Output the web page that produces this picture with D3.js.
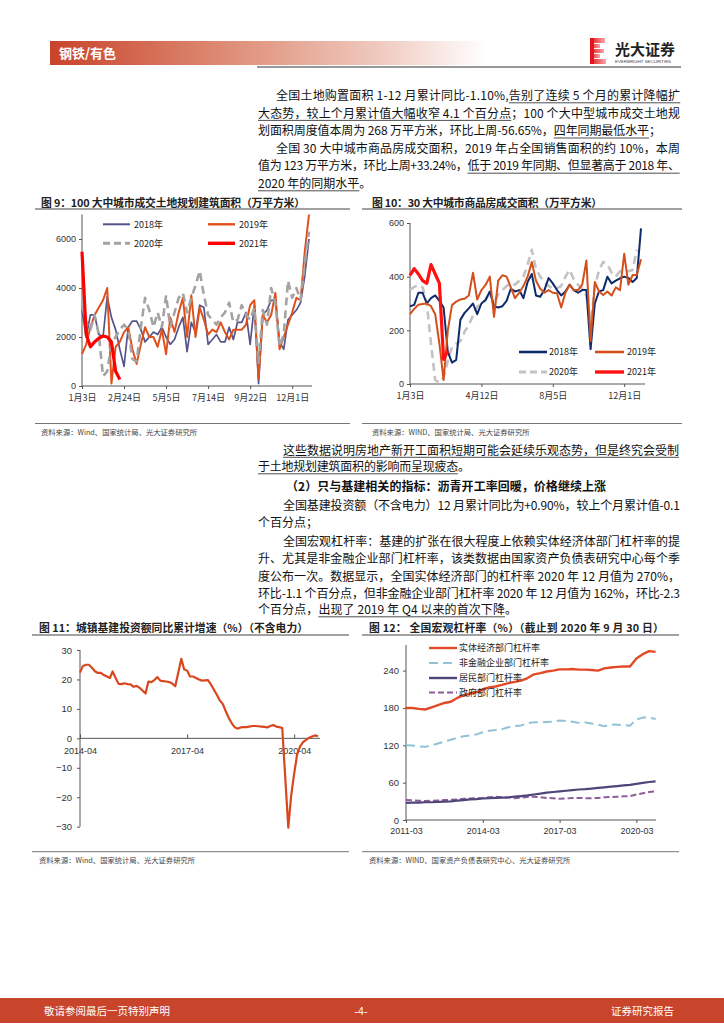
<!DOCTYPE html>
<html><head><meta charset="utf-8">
<script src="https://cdn.jsdelivr.net/npm/d3@7"></script>
<style>body{margin:0;background:#fff}svg{display:block}</style>
</head><body>
<script>
// ---------------- DATA ----------------
// Fig 9: 100 cities land planning area (weekly, 万平方米)
const fig9TickIdx = [0,10,20,30,40,50];
const fig9TickLabels = ["1月3日","2月24日","5月5日","7月14日","9月22日","12月1日"];
const fig9Names = ["2018年","2019年","2020年","2021年"];
const fig9_2018 = [3100,2000,2900,2900,2100,2000,3650,2800,2300,1500,800,2400,2650,2650,2300,1800,2000,2200,2100,2400,2000,1700,1900,2400,2800,1400,2600,2200,3300,3200,1700,1900,2100,1800,1800,2400,1900,2600,2600,3000,1700,3300,100,2900,3100,3500,3500,1800,1500,2700,2900,3100,3400,4500,6000];
const fig9_2019 = [1300,1700,2400,2900,3200,3500,4000,100,1600,1800,2200,2400,1500,900,1700,2400,2000,2000,1600,2300,1300,2800,2200,3000,3600,2000,3700,2000,3200,2700,2100,2300,2200,2600,2200,1900,2300,2300,2300,2500,3300,3500,300,2900,2600,2900,3800,1500,2000,2500,3000,3600,3500,5500,7000];
const fig9_2020 = [3300,2600,2300,2900,2100,400,600,1700,2000,2300,2500,2300,1100,1000,2400,3600,3100,2400,3000,2400,3700,2400,3000,3600,3800,3000,3600,4100,4700,3700,2900,2700,2500,2800,3000,3400,2600,2700,3300,2900,2700,3200,900,3100,2500,4000,3400,1600,2100,4300,3600,4000,3500,5000,6300];
const fig9_2021 = [5480,2100,1600,1800,1950,2040,2000,1800,600,268];
const fig9YTicks = [0,2000,4000,6000];

// Fig 10: 30 cities commodity housing sales (weekly, 万平方米)
const fig10TickIdx = [0,17,34,51];
const fig10TickLabels = ["1月3日","4月12日","8月5日","12月1日"];
const fig10Names = ["2018年","2019年","2020年","2021年"];
const fig10_2018 = [290,295,340,340,300,320,330,310,285,120,80,90,240,265,282,300,260,300,313,345,290,285,290,310,355,345,350,320,380,410,330,325,350,395,375,350,330,345,370,350,340,350,350,130,300,345,350,400,375,385,394,400,395,380,395,580];
const fig10_2019 = [260,280,295,298,300,290,260,150,15,200,294,307,315,318,330,415,315,350,369,400,250,385,405,400,360,320,340,365,400,455,385,355,340,350,340,338,285,340,370,350,350,370,460,160,380,345,332,345,330,360,350,485,370,406,406,465];
const fig10_2020 = [350,362,368,360,300,150,15,5,25,85,139,150,160,195,220,255,288,300,315,340,300,335,350,365,375,370,385,400,445,500,430,400,380,365,357,357,365,400,425,390,370,355,330,220,360,425,455,445,415,400,420,425,420,425,500];
const fig10_2021 = [405,430,410,385,375,445,410,375,92,123];
const fig10YTicks = [0,200,400,600];

// Fig 11: infrastructure investment cumulative YoY (%), monthly 2014-04 .. 2020-12 (null = no January release)
const fig11Start = "2014-04", fig11End = "2020-12";
const fig11Values = [22.3,24.6,25,25,24,22.8,22.2,22.2,21.5,null,20.5,22.7,20.5,18.5,18.4,18.7,18.4,18.3,17.5,17.8,17.2,null,15.2,19.3,19.1,19.8,20.8,19.6,19.4,19.3,19.1,18.6,17.7,null,27,23.5,23,21,21,20.5,20,19.6,19.7,19.8,18.3,null,14.7,12.9,11.7,9.3,7,5.2,3.8,3.3,3.7,3.8,3.8,null,4.2,4.2,4.1,4,3.9,3.7,4.2,4.5,4,3.8,3.5,null,-30.3,-19.5,-12,-5.5,-2.7,-1.3,-0.5,0.2,0.6,1.0,0.7];
const fig11TickLabels = ["2014-04","2017-04","2020-04"];
const fig11YTicks = [-30,-20,-10,0,10,20,30];

// Fig 12: macro leverage (%), quarterly 2011-03 .. 2020-12
const fig12Names = ["实体经济部门杠杆率","非金融企业部门杠杆率","居民部门杠杆率","政府部门杠杆率"];
const fig12Real = [180,180,178.5,177.5,181,184.5,188,190,196,200,203,205,210,213,214.5,217,220,222,224,228,234,236,238.5,240,242,242,242.5,241.5,241.5,241,240,243.5,245,246,246.5,246.5,259.3,266.4,271.2,270.1];
const fig12Corp = [120,119.5,118,117.5,120,123,126,129,132,134.5,136,137.5,141,143.5,144.5,146,149,151,152,155.5,157,157,157.5,158,160,159,158,156,156.5,155,153,150.5,153.5,153,152.5,151.5,161.5,164.5,164.6,162.3];
const fig12House = [27.5,28,28,28.5,28.5,29,29.5,30,31,32,33,33.5,34.5,35,35.5,36,36.5,37.5,38.5,39.5,41,42.5,44,45,46,47,48,49,49.5,50.5,51.5,52.5,53.5,54.5,55.5,56.5,58,59.5,61,62];
const fig12Gov = [32,31.5,31,30.5,31,31.5,32,32.5,33,34,34.5,35,35.5,36.5,37.5,36.5,36,35,36,37,37.5,36.5,35.5,35,34,34.5,35.5,35.5,35,35,35.5,36.5,37,37.5,38,38.5,41,43,45,46];
const fig12TickIdx = [0,12,24,36];
const fig12TickLabels = ["2011-03","2014-03","2017-03","2020-03"];
const fig12YTicks = [0,60,120,180,240];

// ---------------- DRAW ----------------
const CJK = "'Noto Sans CJK SC','Noto Sans',sans-serif";
const NUM = "'Liberation Sans','Noto Sans CJK SC',sans-serif";
const svg = d3.select("body").append("svg").attr("width",724).attr("height",1024);
const defs = svg.append("defs");

// header
const hg = defs.append("linearGradient").attr("id","hdr").attr("x1","0").attr("x2","1");
hg.append("stop").attr("offset","0%").attr("stop-color","#C8432A");
hg.append("stop").attr("offset","40%").attr("stop-color","#DE8C75");
hg.append("stop").attr("offset","75%").attr("stop-color","#EFC9BE");
hg.append("stop").attr("offset","100%").attr("stop-color","#FFFFFF");
svg.append("rect").attr("x",50).attr("y",41).attr("width",436).attr("height",24).attr("fill","url(#hdr)");
svg.append("text").attr("x",59).attr("y",58).text("钢铁/有色").attr("fill","#fff")
  .style("font-family",CJK).style("font-size","13px").style("font-weight","700");
svg.append("line").attr("x1",257).attr("x2",681).attr("y1",67).attr("y2",67).attr("stroke","#333").attr("stroke-width",1.2);
// logo
const lg = defs.append("linearGradient").attr("id","logo").attr("x1","0").attr("x2","1");
lg.append("stop").attr("offset","0%").attr("stop-color","#E3161E");
lg.append("stop").attr("offset","100%").attr("stop-color","#F7A5A5");
const logoBars = [[590,38,15,5],[590,44,10,4],[590,49,14,4],[590,54,10,4],[590,59,16,5]];
logoBars.forEach(b=>svg.append("rect").attr("x",b[0]).attr("y",b[1]).attr("width",b[2]).attr("height",b[3]).attr("fill","url(#logo)"));
svg.append("rect").attr("x",590).attr("y",38).attr("width",4).attr("height",26).attr("fill","#E3161E");
svg.append("text").attr("x",615).attr("y",55).text("光大证券").attr("fill","#222")
  .style("font-family",CJK).style("font-size","15px").style("font-weight","700");
svg.append("text").attr("x",615).attr("y",62.5).text("EVERBRIGHT SECURITIES").attr("fill","#444")
  .style("font-family",NUM).style("font-size","4.4px");

// footer
svg.append("rect").attr("x",0).attr("y",998).attr("width",724).attr("height",25).attr("fill","#C8442A");
svg.append("text").attr("x",44).attr("y",1014.5).text("敬请参阅最后一页特别声明").attr("fill","#fff").style("font-family",CJK).style("font-size","10.5px");
svg.append("text").attr("x",361).attr("y",1014.5).attr("text-anchor","middle").text("-4-").attr("fill","#fff").style("font-family",NUM).style("font-size","10.5px");
svg.append("text").attr("x",674).attr("y",1014.5).attr("text-anchor","end").text("证券研究报告").attr("fill","#fff").style("font-family",CJK).style("font-size","10.5px");

// justified text helper
function fitLine(x0, x1, y, segs, opt={}) {
  const t = svg.append("text").attr("x",x0).attr("y",y)
    .attr("fill", opt.fill||"#111")
    .style("font-family", opt.family||CJK).style("font-size",(opt.size||12)+"px")
    .style("font-weight", opt.weight||"400");
  let full = ""; const ranges = [];
  segs.forEach(s => { const str = s[0]; if (s[1]) ranges.push([full.length, full.length+str.length-1]); full += str; });
  t.text(full);
  if (x1 != null) {
    const w = t.node().getComputedTextLength();
    const ls = (x1 - x0 - w) / (full.length - 1);
    t.attr("letter-spacing", ls.toFixed(3));
  }
  ranges.forEach(([a,b]) => {
    const n = t.node();
    const sx = n.getStartPositionOfChar(a).x, ex = n.getStartPositionOfChar(b).x + n.getExtentOfChar(b).width;
    svg.append("line").attr("x1",sx).attr("x2",ex).attr("y1",y+2.8).attr("y2",y+2.8)
      .attr("stroke","#222").attr("stroke-width",0.8);
  });
  return t;
}

// text block 1
const b1 = [
  [276,680,[["全国土地购置面积 1-12 月累计同比-1.10%,",0],["告别了连续 5 个月的累计降幅扩",1]]],
  [258,680,[["大态势，较上个月累计值大幅收窄 4.1 个百分点",1],["；100 个大中型城市成交土地规",0]]],
  [258,661,[["划面积周度值本周为 268 万平方米，环比上周-56.65%，",0],["四年同期最低水平",1],["；",0]]],
  [276,680,[["全国 30 大中城市商品房成交面积，2019 年占全国销售面积的约 10%，本周",0]]],
  [258,680,[["值为 123 万平方米，环比上周+33.24%，",0],["低于 2019 年同期、但显著高于 2018 年、",1]]],
  [258,null,[["2020 年的同期水平",1],["。",0]]]
];
b1.forEach((l,i)=>fitLine(l[0],l[1],100+i*17.6,l[2]));

// text block 2
const b2 = [
  [283,679,454.5,[["这些数据说明房地产新开工面积短期可能会延续乐观态势，但是终究会受制",1]],{}],
  [258,470,471,[["于土地规划建筑面积的影响而呈现疲态",1],["。",0]],{}],
  [286,606,491,[["（2）只与基建相关的指标：沥青开工率回暖，价格继续上涨",0]],{weight:"700"}],
  [283,680,509.5,[["全国基建投资额（不含电力）12 月累计同比为+0.90%，较上个月累计值-0.1",0]],{}],
  [258,null,527,[["个百分点；",0]],{}],
  [283,680,545.5,[["全国宏观杠杆率：基建的扩张在很大程度上依赖实体经济体部门杠杆率的提",0]],{}],
  [258,680,563,[["升、尤其是非金融企业部门杠杆率，该类数据由国家资产负债表研究中心每个季",0]],{}],
  [258,680,581,[["度公布一次。数据显示，全国实体经济部门的杠杆率 2020 年 12 月值为 270%，",0]],{}],
  [258,680,598,[["环比-1.1 个百分点，但非金融企业部门杠杆率 2020 年 12 月值为 162%，环比-2.3",0]],{}],
  [258,517,614,[["个百分点，",0],["出现了 2019 年 Q4 以来的首次下降",1],["。",0]],{}]
];
b2.forEach(l=>fitLine(l[0],l[1],l[2],l[3],l[4]));

// chart frames (title, underline, source)
function frame(x, titleY, lineY, title, titleW, srcLineY, srcY, src, lx0, lx1) {
  fitLine(x, x+titleW, titleY, [[title,0]], {weight:"700", size:10.8, fill:"#222"});
  svg.append("line").attr("x1",lx0).attr("x2",lx1).attr("y1",lineY).attr("y2",lineY).attr("stroke","#444").attr("stroke-width",1.2);
  svg.append("line").attr("x1",lx0).attr("x2",lx1).attr("y1",srcLineY).attr("y2",srcLineY).attr("stroke","#666").attr("stroke-width",0.9);
  svg.append("text").attr("x",x).attr("y",srcY).text(src).attr("fill","#444")
    .style("font-family",CJK).style("font-size","7.3px");
}
frame(41, 206.5, 209, "图 9：100 大中城市成交土地规划建筑面积（万平方米）", 264, 423.5, 435, "资料来源：Wind、国家统计局、光大证券研究所", 35, 350);
frame(372, 206.5, 209, "图 10：30 大中城市商品房成交面积（万平方米）", 230, 423.5, 435, "资料来源：WIND、国家统计局、光大证券研究所", 362, 682);
frame(39, 631.5, 635, "图 11：城镇基建投资额同比累计增速（%）（不含电力）", 269, 851.7, 863, "资料来源：Wind、国家统计局、光大证券研究所", 32, 349);
frame(369, 631.5, 635, "图 12：  全国宏观杠杆率（%）（截止到 2020 年 9 月 30 日）", 295, 851.7, 863, "资料来源：WIND、国家资产负债表研究中心、光大证券研究所", 362, 679);

function styleAxis(g) {
  g.selectAll("path.domain").remove();
  g.selectAll("line").attr("stroke","#555");
  g.selectAll("text").attr("fill","#333").style("font-family",NUM).style("font-size","9px");
}
function hline(x0,x1,y){svg.append("line").attr("x1",x0).attr("x2",x1).attr("y1",y).attr("y2",y).attr("stroke","#555").attr("stroke-width",1);}
function vline(x,y0,y1){svg.append("line").attr("x1",x).attr("x2",x).attr("y1",y0).attr("y2",y1).attr("stroke","#555").attr("stroke-width",1);}
function drawSeries(vals, x, y, color, width, dash) {
  const pts = vals.map((v,i)=>[i,v]).filter(d=>d[1]!=null);
  svg.append("path").attr("d", d3.line().x(d=>x(d[0])).y(d=>y(d[1]))(pts))
    .attr("fill","none").attr("stroke",color).attr("stroke-width",width)
    .attr("stroke-dasharray",dash||null).attr("stroke-linejoin","round");
}
function legendItem(x0,x1,y,color,width,dash,label,tx) {
  svg.append("line").attr("x1",x0).attr("x2",x1).attr("y1",y).attr("y2",y)
    .attr("stroke",color).attr("stroke-width",width).attr("stroke-dasharray",dash||null);
  svg.append("text").attr("x",tx).attr("y",y+3.2).text(label).attr("fill","#222")
    .style("font-family",CJK).style("font-size","9px");
}

// ---- Fig 9 ----
{
  const x = d3.scaleLinear().domain([0,54]).range([82,309]);
  const y = d3.scaleLinear().domain([0,7000]).range([386,214.5]);
  const gy = svg.append("g").attr("transform","translate(82,0)")
    .call(d3.axisLeft(y).tickValues(fig9YTicks).tickSize(3).tickPadding(3).tickFormat(d3.format("d"))); styleAxis(gy);
  const gx = svg.append("g").attr("transform","translate(0,386)")
    .call(d3.axisBottom(x).tickValues(fig9TickIdx).tickSize(3).tickPadding(6).tickFormat((d,i)=>fig9TickLabels[i])); styleAxis(gx);
  gx.selectAll("text").style("font-family",CJK).style("font-size","9px");
  vline(82,214.5,386); hline(82,312,386);
  const cols = ["#55558A","#E0501C","#A3A3A3","#FF0000"];
  drawSeries(fig9_2018,x,y,cols[0],1.7);
  drawSeries(fig9_2019,x,y,cols[1],2);
  drawSeries(fig9_2020,x,y,cols[2],2.6,"8,5");
  drawSeries(fig9_2021,x,y,cols[3],3.2);
  legendItem(103,130,224.3,cols[0],2,null,fig9Names[0],134);
  legendItem(208,235,224.3,cols[1],2.4,null,fig9Names[1],239);
  legendItem(103,130,243.3,cols[2],3,"7,4",fig9Names[2],134);
  legendItem(208,235,243.3,cols[3],3.4,null,fig9Names[3],239);
}
// ---- Fig 10 ----
{
  const x = d3.scaleLinear().domain([0,55]).range([410,641]);
  const y = d3.scaleLinear().domain([0,600]).range([384,223]);
  const gy = svg.append("g").attr("transform","translate(410,0)")
    .call(d3.axisLeft(y).tickValues(fig10YTicks).tickSize(3).tickPadding(3)); styleAxis(gy);
  const gx = svg.append("g").attr("transform","translate(0,384)")
    .call(d3.axisBottom(x).tickValues(fig10TickIdx).tickSize(3).tickPadding(6).tickFormat((d,i)=>fig10TickLabels[i])); styleAxis(gx);
  gx.selectAll("text").style("font-family",CJK).style("font-size","9px");
  vline(410,223,384); hline(410,645,384);
  const cols = ["#0E2A6B","#D4501A","#C3C3C3","#FF1111"];
  drawSeries(fig10_2020,x,y,cols[2],2.6,"8,5");
  drawSeries(fig10_2018,x,y,cols[0],2);
  drawSeries(fig10_2019,x,y,cols[1],2);
  drawSeries(fig10_2021,x,y,cols[3],3.2);
  legendItem(519,547,352,cols[0],2.6,null,fig10Names[0],549);
  legendItem(595,624,352,cols[1],2.6,null,fig10Names[1],627);
  legendItem(519,547,372,cols[2],3,"7,4",fig10Names[2],549);
  legendItem(595,624,372,cols[3],3.4,null,fig10Names[3],627);
}
// ---- Fig 11 ----
{
  const p = d3.timeParse("%Y-%m");
  const months = d3.timeMonth.range(p(fig11Start), d3.timeMonth.offset(p(fig11End),1));
  const x = d3.scaleTime().domain([p(fig11Start), p(fig11End)]).range([80,318]);
  const y = d3.scaleLinear().domain([-30,30]).range([826.7,650]);
  const gy = svg.append("g").attr("transform","translate(80,0)")
    .call(d3.axisLeft(y).tickValues(fig11YTicks).tickSize(3).tickPadding(5).tickFormat(d3.format("d"))); styleAxis(gy);
  gy.selectAll("text").style("font-size","9.5px");
  vline(80,650,826.7);
  const gx = svg.append("g").attr("transform",`translate(0,${y(0)})`)
    .call(d3.axisBottom(x).tickValues(fig11TickLabels.map(p)).tickSize(-4).tickPadding(9).tickFormat(d3.timeFormat("%Y-%m"))); styleAxis(gx);
  hline(80,320,y(0));
  const pts = months.map((m,i)=>[m,fig11Values[i]]).filter(d=>d[1]!=null);
  svg.append("path").attr("d", d3.line().x(d=>x(d[0])).y(d=>y(d[1]))(pts))
    .attr("fill","none").attr("stroke","#D9471F").attr("stroke-width",2.2).attr("stroke-linejoin","round");
}
// ---- Fig 12 ----
{
  const x = d3.scaleLinear().domain([0,39]).range([406,655.6]);
  const y = d3.scaleLinear().domain([0,280]).range([820,645.7]);
  const gy = svg.append("g").attr("transform","translate(406,0)")
    .call(d3.axisLeft(y).tickValues(fig12YTicks).tickSize(3).tickPadding(4)); styleAxis(gy);
  gy.selectAll("text").style("font-size","9.5px");
  const gx = svg.append("g").attr("transform","translate(0,820)")
    .call(d3.axisBottom(x).tickValues(fig12TickIdx).tickSize(3).tickPadding(5).tickFormat((d,i)=>fig12TickLabels[i])); styleAxis(gx);
  vline(406,645,820); hline(406,656,820);
  const cols = ["#E24A27","#93C1D6","#4E4679","#8E5C9B"];
  drawSeries(fig12Gov,x,y,cols[3],2,"6,3");
  drawSeries(fig12House,x,y,cols[2],2.2);
  drawSeries(fig12Corp,x,y,cols[1],2,"9,5");
  drawSeries(fig12Real,x,y,cols[0],2.4);
  legendItem(429,457,648,cols[0],2.4,null,fig12Names[0],459);
  legendItem(429,457,663,cols[1],2.2,"9,5",fig12Names[1],459);
  legendItem(429,457,678,cols[2],2.4,null,fig12Names[2],459);
  legendItem(429,457,692.5,cols[3],2.2,"6,3",fig12Names[3],459);
}
</script>
</body></html>
